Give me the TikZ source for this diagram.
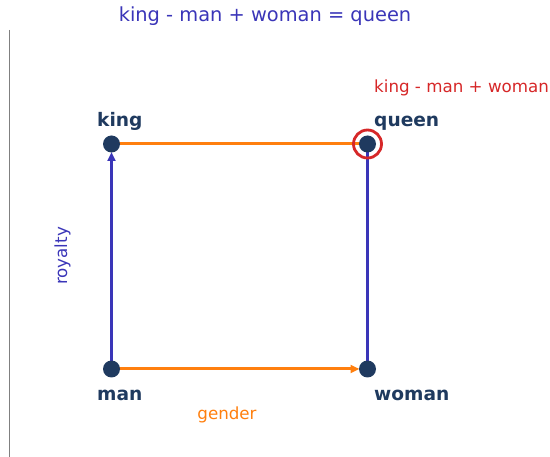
\documentclass[tikz,border=0pt]{standalone}
\usepackage{fontspec}
\setmainfont{DejaVu Sans}
\usetikzlibrary{arrows.meta}
\definecolor{cblue}{HTML}{3A35B8}
\definecolor{corange}{HTML}{FF7F0E}
\definecolor{cred}{HTML}{D62728}
\definecolor{cnavy}{HTML}{1F3A5F}
\tikzset{
  dotnode/.style={circle,fill=cnavy,draw=none,minimum size=17pt,inner sep=0pt},
  wordlabel/.style={text=cnavy,font=\fontsize{18.6}{22}\selectfont\bfseries,anchor=base west,inner sep=0pt},
  annot/.style={font=\fontsize{16.7}{20}\selectfont,inner sep=0pt},
  blueline/.style={draw=cblue,line width=3pt},
  orangeline/.style={draw=corange,line width=3pt},
  arrowtip/.style={-{Triangle[length=9pt,width=8pt]}}
}
\begin{document}
\begin{tikzpicture}[x=1pt,y=-1pt]
\useasboundingbox (0,0) rectangle (550,457);
% left axis line
\coordinate (axtop) at (9.5,30);
\coordinate (axbot) at (9.5,457);
\draw[gray,line width=1pt] (axtop) -- (axbot);
% points
\coordinate (king) at (111.5,144);
\coordinate (queen) at (367.5,144);
\coordinate (man) at (111.5,369);
\coordinate (woman) at (367.5,369);
% connectors
\draw[orangeline] (king) -- (queen);
\draw[blueline] (woman) -- (queen);
\draw[orangeline,arrowtip,shorten >=8pt] (man) -- (woman);
\draw[blueline,arrowtip,shorten >=8pt] (man) -- (king);
% dots
\node[dotnode] (kingdot) at (king) {};
\node[dotnode] (queendot) at (queen) {};
\node[dotnode] (mandot) at (man) {};
\node[dotnode] (womandot) at (woman) {};
\node[circle,draw=cred,line width=2.8pt,minimum size=28pt,inner sep=0pt] (ring) at (queen) {};
% labels
\node[wordlabel] (kinglbl) at (97,126.5) {king};
\node[wordlabel] (queenlbl) at (374,126.5) {queen};
\node[wordlabel] (manlbl) at (97,400.5) {man};
\node[wordlabel] (womanlbl) at (374,400.5) {woman};
\node[annot,text=cred,anchor=base west] (result) at (374,92.5) {king - man + woman};
\node[annot,text=corange,anchor=base] (gender) at (227,419.5) {gender};
\node[annot,text=cblue,rotate=90,anchor=base] (royalty) at (67,256) {royalty};
\node[font=\fontsize{19.4}{23}\selectfont,text=cblue,anchor=base,inner sep=0pt] (title) at (265,22) {king - man + woman = queen};
\end{tikzpicture}
\end{document}
